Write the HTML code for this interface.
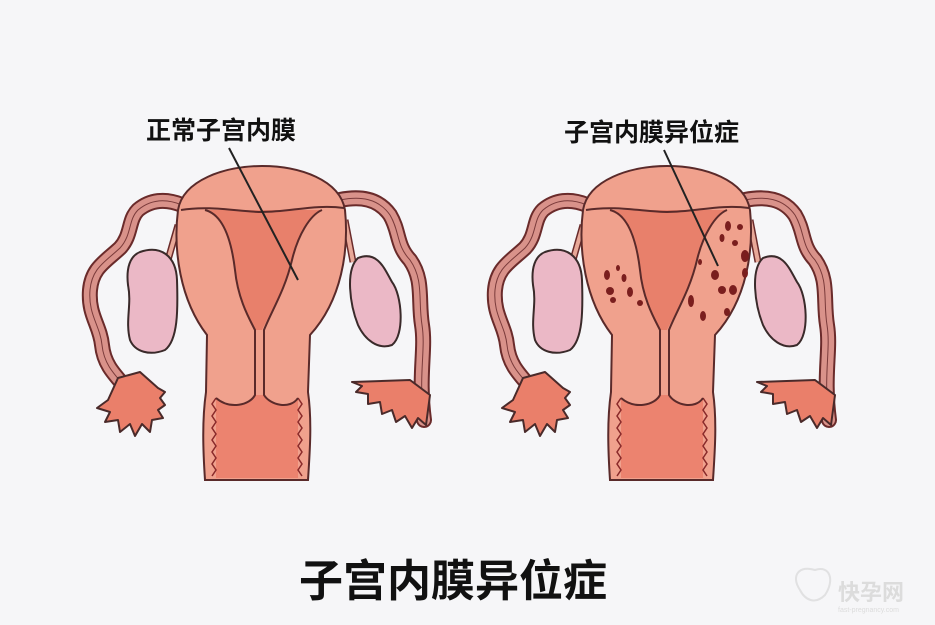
<!DOCTYPE html>
<html><head><meta charset="utf-8"><style>
html,body{margin:0;padding:0;background:#f6f6f8;}
svg{display:block}
text{font-family:"Liberation Sans","Noto Sans CJK SC",sans-serif;font-weight:bold;fill:#111}
</style></head><body>
<svg width="935" height="625" viewBox="0 0 935 625" xmlns="http://www.w3.org/2000/svg">
<rect width="935" height="625" fill="#f6f6f8"/>
<defs>
<path id="tl" d="M182,205 C165,198 150,200 138,210 C128,220 132,235 120,248 C105,262 92,268 90,290 C88,315 100,325 102,345 C104,365 115,375 128,390"/>
<path id="tr" d="M340,200 C360,196 378,198 390,215 C400,232 396,245 410,260 C424,280 418,300 422,325 C426,350 418,375 424,420"/>
<g id="ut">
  <use href="#tl" fill="none" stroke="#6a2b2b" stroke-width="16" stroke-linecap="round"/>
  <use href="#tl" fill="none" stroke="#d9928a" stroke-width="12" stroke-linecap="round"/>
  <use href="#tl" fill="none" stroke="#7a3a3a" stroke-width="1"/>
  <use href="#tr" fill="none" stroke="#6a2b2b" stroke-width="16" stroke-linecap="round"/>
  <use href="#tr" fill="none" stroke="#d9928a" stroke-width="12" stroke-linecap="round"/>
  <use href="#tr" fill="none" stroke="#7a3a3a" stroke-width="1"/>
  <path d="M118,378 L140,372 L158,388 L165,392 L160,398 L165,405 L158,410 L163,418 L152,420 L150,432 L142,424 L135,436 L130,424 L120,432 L118,420 L105,422 L110,412 L97,408 L108,400 Z" fill="#ea7f6a" stroke="#4a2a2a" stroke-width="2" stroke-linejoin="round"/>
  <path d="M410,380 L430,395 L426,425 L418,418 L412,428 L405,416 L396,422 L392,410 L382,414 L380,402 L368,404 L368,394 L356,392 L362,386 L352,382 Z" fill="#ea7f6a" stroke="#4a2a2a" stroke-width="2" stroke-linejoin="round"/>
  <path d="M178,225 L168,260" stroke="#6a2b2b" stroke-width="7"/><path d="M178,225 L168,260" stroke="#e8a898" stroke-width="4"/>
  <path d="M345,220 L353,262" stroke="#6a2b2b" stroke-width="7"/><path d="M345,220 L353,262" stroke="#e8a898" stroke-width="4"/>
  <path d="M140,252 C160,245 176,255 177,280 C178,310 178,340 165,350 C150,356 135,352 130,340 C125,320 132,305 128,285 C126,268 130,256 140,252 Z" fill="#ebb8c6" stroke="#3a2a2a" stroke-width="2"/>
  <path d="M358,258 C378,250 385,270 392,282 C402,295 405,335 392,345 C378,350 365,340 358,325 C350,305 345,270 358,258 Z" fill="#ebb8c6" stroke="#3a2a2a" stroke-width="2"/>
  <path d="M178,210 C183,180 225,166 262,166 C300,166 340,180 345,210 C349,250 342,300 310,335 L308,392 C312,420 310,450 308,480 L205,480 C203,450 202,420 206,392 L207,335 C180,300 173,250 178,210 Z" fill="#f0a18d" stroke="#5a2a2a" stroke-width="2"/>
  <path d="M216,398 C230,410 250,405 256,395 L264,395 C270,405 290,410 298,398 L298,478 L216,478 Z" fill="#ec836f"/>
  <path d="M216,398 l-4,6 4,6 -4,6 4,6 -4,6 4,6 -4,6 4,6 -4,6 4,6 -4,6 4,6 -4,6" fill="none" stroke="#8a2a2a" stroke-width="1.5"/>
  <path d="M298,398 l4,6 -4,6 4,6 -4,6 4,6 -4,6 4,6 -4,6 4,6 -4,6 4,6 -4,6 4,6" fill="none" stroke="#8a2a2a" stroke-width="1.5"/>
  <path d="M205,210 C225,215 232,245 235,270 C238,300 250,320 255,330 L262,330 C272,310 285,290 292,260 C298,235 310,215 322,210 Z" fill="#e8806b"/>
  <path d="M181,210 C210,205 240,212 262,212 C290,212 315,204 344,208" fill="none" stroke="#5a2a2a" stroke-width="2"/>
  <path d="M205,210 C225,215 232,245 235,270 C238,300 250,320 255,330 L255,395 C250,405 230,410 216,398" fill="none" stroke="#5a2a2a" stroke-width="2"/>
  <path d="M322,210 C310,215 298,235 292,260 C285,290 272,310 264,330 L264,395 C270,405 290,410 298,398" fill="none" stroke="#5a2a2a" stroke-width="2"/>
</g>
</defs>
<use href="#ut"/>
<use href="#ut" transform="translate(405,0)"/>
<g fill="#7a1e1e">
  <ellipse cx="607" cy="275" rx="3" ry="5"/><ellipse cx="610" cy="291" rx="4" ry="4"/><ellipse cx="613" cy="300" rx="3" ry="3"/>
  <ellipse cx="624" cy="278" rx="2.5" ry="4"/><ellipse cx="630" cy="292" rx="3" ry="5"/><ellipse cx="640" cy="303" rx="3" ry="3"/><ellipse cx="618" cy="268" rx="2" ry="3"/>
  <ellipse cx="728" cy="226" rx="3" ry="5"/><ellipse cx="740" cy="227" rx="3" ry="3"/><ellipse cx="722" cy="238" rx="2.5" ry="4"/>
  <ellipse cx="735" cy="243" rx="3" ry="3"/><ellipse cx="745" cy="256" rx="4" ry="6"/><ellipse cx="715" cy="275" rx="4" ry="5"/>
  <ellipse cx="700" cy="262" rx="2" ry="3"/><ellipse cx="733" cy="290" rx="4" ry="5"/><ellipse cx="745" cy="273" rx="3" ry="5"/>
  <ellipse cx="722" cy="290" rx="4" ry="4"/><ellipse cx="691" cy="301" rx="3" ry="6"/><ellipse cx="703" cy="316" rx="3" ry="5"/><ellipse cx="727" cy="312" rx="3" ry="4"/>
</g>
<line x1="229" y1="148" x2="298" y2="280" stroke="#222" stroke-width="2"/>
<line x1="664" y1="150" x2="718" y2="266" stroke="#222" stroke-width="2"/>
<text x="146" y="139" font-size="25">正常子宫内膜</text>
<text x="564" y="141" font-size="25">子宫内膜异位症</text>
<text x="299" y="596" font-size="44">子宫内膜异位症</text>
<g opacity="0.5" fill="none" stroke="#ccc" stroke-width="2">
  <path d="M800,590 C790,575 800,565 815,570 C830,565 835,580 825,595 C815,605 805,600 800,590 Z"/>
</g>
<text x="838" y="600" font-size="22" style="fill:#dcdcdc">快孕网</text>
<text x="838" y="612" font-size="7" style="fill:#dcdcdc;font-weight:normal">fast-pregnancy.com</text>
</svg>
</body></html>
